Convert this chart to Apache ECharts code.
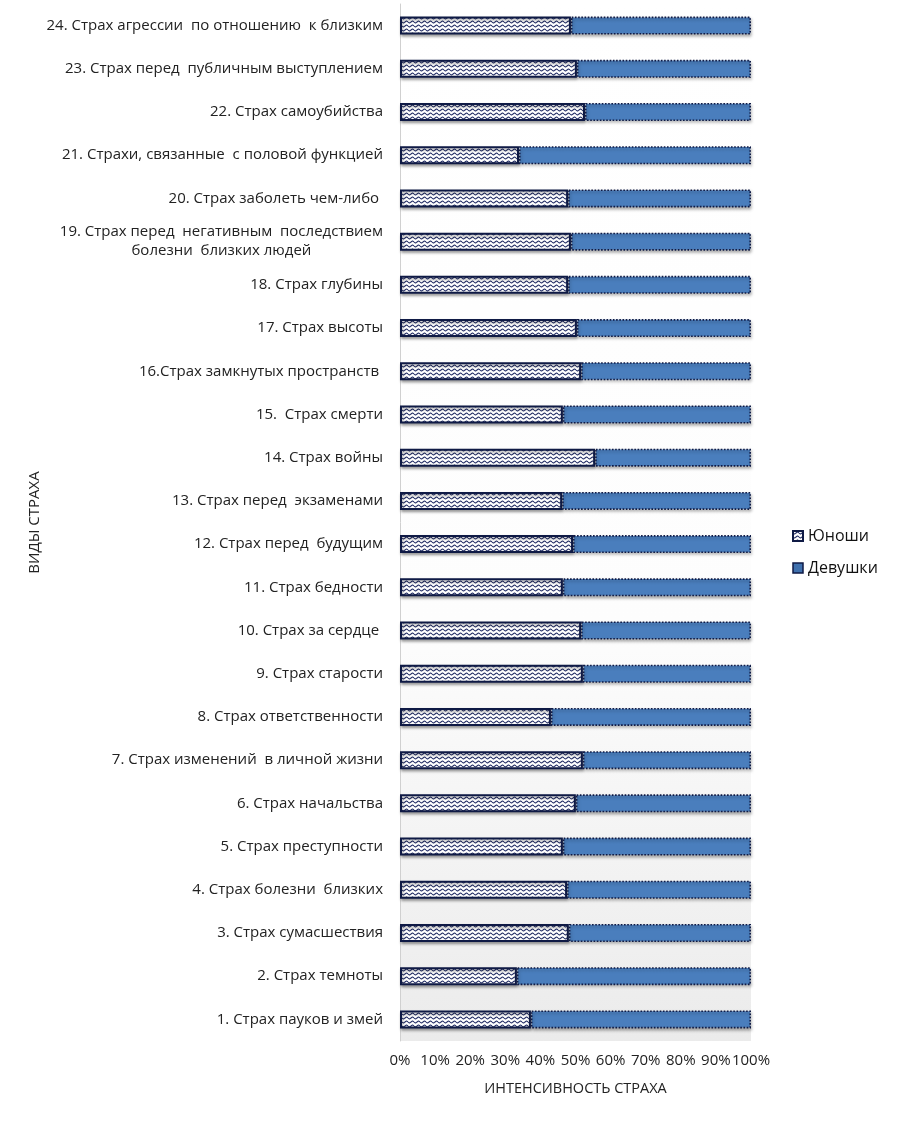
<!DOCTYPE html>
<html>
<head>
<meta charset="utf-8">
<script src="https://cdn.jsdelivr.net/npm/echarts@6/dist/echarts.min.js"></script>
<style>
html,body{margin:0;padding:0;background:#fff;}
#chart{width:899px;height:1123px;}
</style>
</head>
<body>
<div id="chart"></div>
<script>
var categories = [
  "1. Страх пауков и змей",
  "2. Страх темноты",
  "3. Страх сумасшествия",
  "4. Страх болезни  близких",
  "5. Страх преступности",
  "6. Страх начальства",
  "7. Страх изменений  в личной жизни",
  "8. Страх ответственности",
  "9. Страх старости",
  "10. Страх за сердце ",
  "11. Страх бедности",
  "12. Страх перед  будущим",
  "13. Страх перед  экзаменами",
  "14. Страх войны",
  "15.  Страх смерти",
  "16.Страх замкнутых пространств ",
  "17. Страх высоты",
  "18. Страх глубины",
  "19. Страх перед  негативным  последствием\nболезни  близких людей",
  "20. Страх заболеть чем-либо ",
  "21. Страхи, связанные  с половой функцией",
  "22. Страх самоубийства",
  "23. Страх перед  публичным выступлением",
  "24. Страх агрессии  по отношению  к близким"
];
var boys = [37.3, 33.3, 48.1, 47.6, 46.4, 50.1, 52.1, 43.0, 52.1, 51.6, 46.4, 49.3,
            46.2, 55.6, 46.4, 51.6, 50.4, 47.9, 48.7, 47.9, 33.9, 52.7, 50.4, 48.7];
var girls = [62.7, 66.7, 51.9, 52.4, 53.6, 49.9, 47.9, 57.0, 47.9, 48.4, 53.6, 50.7,
             53.8, 44.4, 53.6, 48.4, 49.6, 52.1, 51.3, 52.1, 66.1, 47.3, 49.6, 51.3];
var xTicks = ["0%","10%","20%","30%","40%","50%","60%","70%","80%","90%","100%"];
var seriesNames = ["Юноши", "Девушки"];

// wavy pattern for Юноши
var pc = document.createElement('canvas');
pc.width = 6; pc.height = 4;
var ctx = pc.getContext('2d');
ctx.fillStyle = '#ffffff';
ctx.fillRect(0, 0, 6, 4);
ctx.strokeStyle = '#2a346a';
ctx.lineWidth = 1.1;
ctx.beginPath();
for (var i = 0; i <= 24; i++) {
  var x = i * 0.25;
  var y = 2 + 0.9 * Math.sin(x / 6 * Math.PI * 2);
  if (i === 0) ctx.moveTo(x, y); else ctx.lineTo(x, y);
}
ctx.stroke();

var chart = echarts.init(document.getElementById('chart'), null, {renderer: 'canvas'});
var fontFam = '"Open Sans", "Noto Sans", sans-serif';
chart.setOption({
  animation: false,
  backgroundColor: '#ffffff',
  grid: {
    left: 400, top: 4, width: 351, height: 1037,
    show: true, borderWidth: 0,
    backgroundColor: new echarts.graphic.LinearGradient(0, 0, 0, 1, [
      {offset: 0, color: '#ffffff'},
      {offset: 0.6, color: '#fdfdfd'},
      {offset: 1, color: '#ebebeb'}
    ])
  },
  legend: {
    orient: 'vertical',
    left: 787, top: 523,
    itemWidth: 10, itemHeight: 10, itemGap: 16,
    icon: 'rect',
    textStyle: {fontFamily: fontFam, fontSize: 16, color: '#111'},
    data: [
      {name: seriesNames[0], itemStyle: {color: {image: pc, repeat: 'repeat'}, borderColor: '#0f1a45', borderWidth: 2, borderType: 'solid'}},
      {name: seriesNames[1], itemStyle: {color: '#3f70ad', borderColor: '#0f1a45', borderWidth: 1.5, borderType: 'solid'}}
    ]
  },
  xAxis: {
    type: 'value', min: 0, max: 100, interval: 10,
    name: 'ИНТЕНСИВНОСТЬ СТРАХА', nameLocation: 'middle', nameGap: 40,
    nameTextStyle: {fontFamily: fontFam, fontSize: 14.5, color: '#222'},
    axisLine: {show: false}, axisTick: {show: false}, splitLine: {show: false},
    axisLabel: {
      fontFamily: fontFam, fontSize: 15, color: '#222', margin: 12,
      formatter: function (v) { return xTicks[Math.round(v / 10)]; }
    }
  },
  yAxis: {
    type: 'category', data: categories,
    name: 'ВИДЫ СТРАХА', nameLocation: 'middle', nameGap: 357, nameRotate: 90,
    nameTextStyle: {fontFamily: fontFam, fontSize: 15, color: '#222'},
    axisLine: {show: true, lineStyle: {color: '#d0d0d0', width: 1}},
    axisTick: {show: false}, splitLine: {show: false},
    axisLabel: {
      fontFamily: fontFam, fontSize: 15, color: '#222', margin: 17,
      lineHeight: 19,
      formatter: function (v) {
        if (v.indexOf('\n') >= 0) {
          return v.split('\n').map(function (s) { return '{c|' + s + '}'; }).join('\n');
        }
        return v;
      },
      rich: {c: {align: 'center', fontFamily: fontFam, fontSize: 15, color: '#222', lineHeight: 19}}
    }
  },
  series: [
    {
      name: seriesNames[0], type: 'bar', stack: 'total', data: boys,
      barWidth: 18,
      itemStyle: {
        color: {image: pc, repeat: 'repeat'},
        borderColor: '#0f1a45', borderWidth: 2, borderType: 'solid',
        shadowColor: 'rgba(0,0,0,0.35)', shadowBlur: 3, shadowOffsetX: 1, shadowOffsetY: 2
      }
    },
    {
      name: seriesNames[1], type: 'bar', stack: 'total', data: girls,
      barWidth: 18,
      itemStyle: {
        color: '#4a7ebd',
        borderColor: '#0f1a45', borderWidth: 1.6, borderType: 'dotted',
        shadowColor: 'rgba(0,0,0,0.35)', shadowBlur: 3, shadowOffsetX: 1, shadowOffsetY: 2
      }
    }
  ]
});
</script>
</body>
</html>
